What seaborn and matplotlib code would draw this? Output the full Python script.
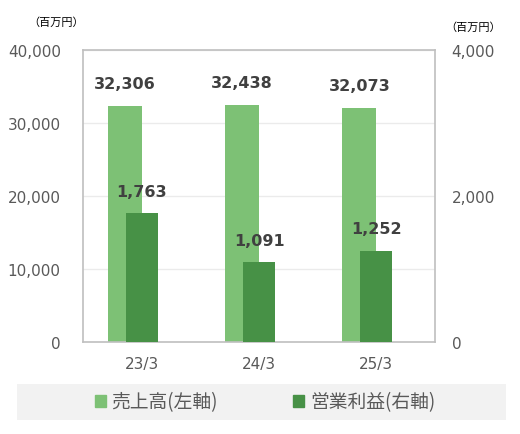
import pandas as pd
import seaborn as sns
import matplotlib.pyplot as plt
from matplotlib.patches import Rectangle

periods = ['23/3', '24/3', '25/3']
sales = [32306, 32438, 32073]          # 売上高 (left axis)
op_profit = [1763, 1091, 1252]         # 営業利益 (right axis)
left_ticks = [0, 10000, 20000, 30000, 40000]
right_ticks = [0, 2000, 4000]

LIGHT = '#7dc175'
DARK = '#479146'
GRAY = '#595959'

sns.set_style('white')
plt.rcParams['font.family'] = ['DejaVu Sans', 'Noto Sans CJK JP']

df = pd.DataFrame({'period': periods, 'sales': sales, 'op': op_profit})

fig = plt.figure(figsize=(5.2, 4.35), dpi=100)
ax = fig.add_axes([83 / 520, 1 - 343 / 435, 352 / 520, 292 / 435])

sns.barplot(data=df, x='period', y='sales', color=LIGHT, width=0.29,
            saturation=1, errorbar=None, linewidth=0, ax=ax)
# light bars sit left of centre, overlapped by the dark ones
for p in ax.patches:
    p.set_x(p.get_x() - 0.145)

ax2 = ax.twinx()
sns.barplot(data=df, x='period', y='op', color=DARK, width=0.275,
            saturation=1, errorbar=None, linewidth=0, ax=ax2)

ax.set_ylim(0, 40000)
ax2.set_ylim(0, 4000)
ax.set_xlim(-0.5, 2.5)
ax2.set_xlim(-0.5, 2.5)

ax.set_yticks(left_ticks)
ax.set_yticklabels([f'{t:,}' for t in left_ticks])
ax2.set_yticks(right_ticks)
ax2.set_yticklabels([f'{t:,}' for t in right_ticks])

for a in (ax, ax2):
    a.set_xlabel('')
    a.set_ylabel('')
ax.tick_params(axis='y', length=0, pad=16, labelsize=11, labelcolor=GRAY)
ax.tick_params(axis='x', length=0, pad=10, labelsize=11, labelcolor=GRAY)
ax2.tick_params(axis='y', length=0, pad=12, labelsize=11, labelcolor=GRAY)

ax.yaxis.grid(True, color='#ebebeb', lw=1)
ax.set_axisbelow(True)
for s in ax.spines.values():
    s.set_visible(True)
    s.set_color('#bfbfbf')
    s.set_linewidth(1.2)
for s in ax2.spines.values():
    s.set_visible(False)

for p, v in zip(ax.patches, sales):
    ax.annotate(f'{v:,}', (p.get_x() + p.get_width() / 2, p.get_height()),
                xytext=(0, 16), textcoords='offset points', ha='center',
                va='center', fontsize=11.5, fontweight='bold', color='#404040')
for p, v in zip(ax2.patches, op_profit):
    ax2.annotate(f'{v:,}', (p.get_x() + p.get_width() / 2, p.get_height()),
                 xytext=(0, 16), textcoords='offset points', ha='center',
                 va='center', fontsize=11.5, fontweight='bold', color='#404040')

fig.text(56 / 520, 1 - 23 / 435, '（百万円）', ha='center', va='center',
         fontsize=8, family=['Noto Sans CJK JP'], color='black')
fig.text(473 / 520, 1 - 28 / 435, '（百万円）', ha='center', va='center',
         fontsize=8, family=['Noto Sans CJK JP'], color='black')

# legend band
fig.patches.append(Rectangle((17 / 520, 1 - 421 / 435), 489 / 520, 36 / 435,
                             transform=fig.transFigure, facecolor='#f2f2f2',
                             edgecolor='none', zorder=0))
handles = [Rectangle((0, 0), 1, 1, color=LIGHT), Rectangle((0, 0), 1, 1, color=DARK)]
leg = fig.legend(handles, ['売上高(左軸)', '営業利益(右軸)'], ncol=2, loc='center',
                 bbox_to_anchor=(265 / 520, 1 - 403 / 435), frameon=False,
                 handlelength=0.6, handleheight=0.6,
                 handletextpad=0.3, columnspacing=4.0,
                 prop={'family': ['Noto Sans CJK JP'], 'size': 13.5})
for t in leg.get_texts():
    t.set_color(GRAY)

fig.savefig('out.png', dpi=100)
